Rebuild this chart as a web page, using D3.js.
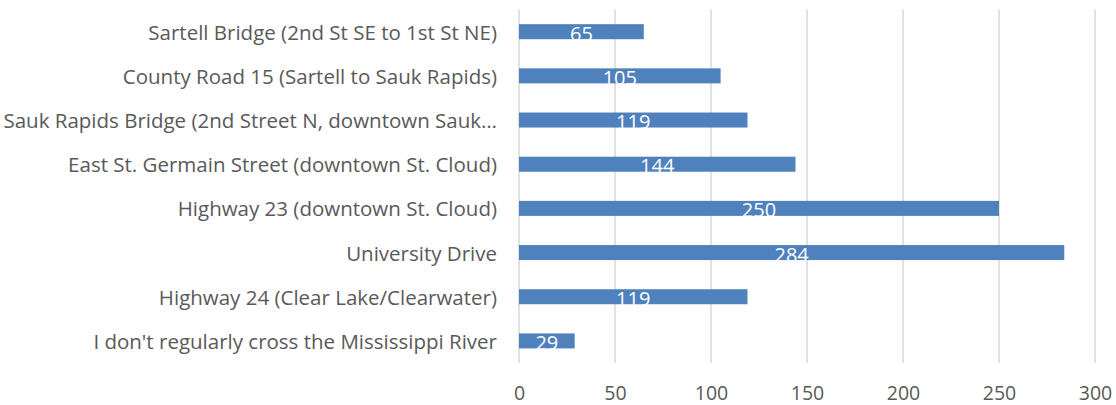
<!DOCTYPE html>
<html>
<head>
<meta charset="utf-8">
<script src="https://cdn.jsdelivr.net/npm/d3@7"></script>
<style>
  body { margin: 0; background: #fff; }
  svg text { font-family: "Open Sans", "Noto Sans", sans-serif; }
</style>
</head>
<body>
<svg id="chart" width="1116" height="405"></svg>
<script>
// categories top to bottom, as shown
var categories = [
  "Sartell Bridge (2nd St SE to 1st St NE)",
  "County Road 15 (Sartell to Sauk Rapids)",
  "Sauk Rapids Bridge (2nd Street N, downtown Sauk\u2026",
  "East St. Germain Street (downtown St. Cloud)",
  "Highway 23 (downtown St. Cloud)",
  "University Drive",
  "Highway 24 (Clear Lake/Clearwater)",
  "I don't regularly cross the Mississippi River"
]
var values = [65, 105, 119, 144, 250, 284, 119, 29]
var ticks = [0, 50, 100, 150, 200, 250, 300]

var svg = d3.select('#chart')
var plotLeft = 519, plotRight = 1095, plotTop = 9.6, plotBottom = 363

var x = d3.scaleLinear().domain([0, 300]).range([plotLeft, plotRight])
var y = d3.scaleBand().domain(categories).range([plotTop, plotBottom]).paddingInner(0.66).paddingOuter(0.33)

// gridlines
svg.append('g').selectAll('line')
  .data(ticks)
  .enter().append('line')
  .attr('x1', function(d) { return x(d) })
  .attr('x2', function(d) { return x(d) })
  .attr('y1', plotTop)
  .attr('y2', plotBottom)
  .attr('stroke', '#d9d9d9')
  .attr('stroke-width', 1.5)

// x tick labels
var xAxis = d3.axisBottom(x).tickValues(ticks).tickSize(0).tickPadding(0)
var gx = svg.append('g').attr('transform', 'translate(0,' + plotBottom + ')').call(xAxis)
gx.select('.domain').remove()
gx.selectAll('text')
  .attr('dy', null)
  .attr('y', 36.5)
  .attr('fill', '#595959')
  .style('font-size', '19.5px')

// bars
var data = categories.map(function(c, i) { return {cat: c, val: values[i]} })
svg.append('g').selectAll('rect')
  .data(data)
  .enter().append('rect')
  .attr('x', x(0))
  .attr('y', function(d) { return y(d.cat) })
  .attr('width', function(d) { return x(d.val) - x(0) })
  .attr('height', y.bandwidth())
  .attr('fill', '#4f81bd')

// value labels
svg.append('g').selectAll('text')
  .data(data)
  .enter().append('text')
  .attr('x', function(d) { return (x(0) + x(d.val)) / 2 })
  .attr('y', function(d) { return y(d.cat) + y.bandwidth() / 2 + 9 })
  .attr('text-anchor', 'middle')
  .attr('fill', '#fff')
  .style('font-size', '20px')
  .text(function(d) { return d.val })

// category labels
var yAxis = d3.axisLeft(y).tickSize(0).tickPadding(0)
var gy = svg.append('g').attr('transform', 'translate(497,0)').call(yAxis)
gy.select('.domain').remove()
gy.selectAll('text')
  .attr('dy', '8px')
  .attr('fill', '#595959')
  .style('font-size', '20.5px')
</script>
</body>
</html>
